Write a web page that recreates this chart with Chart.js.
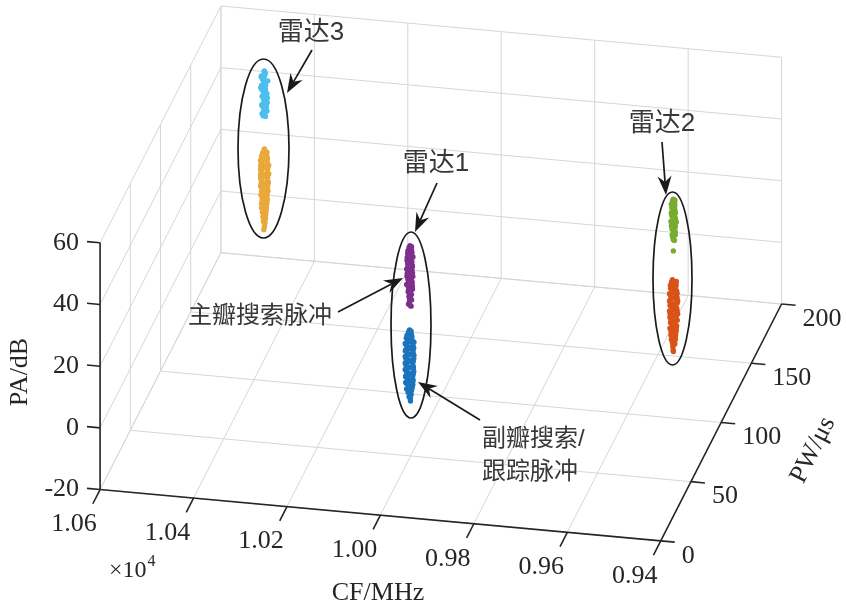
<!DOCTYPE html>
<html>
<head>
<meta charset="utf-8">
<script src="https://cdn.jsdelivr.net/npm/chart.js@4.4.1/dist/chart.umd.min.js"></script>
<style>
  html, body { margin: 0; padding: 0; background: #fff; }
  #wrap { width: 846px; height: 609px; }
</style>
</head>
<body>
<div id="wrap"><canvas id="pdwChart"></canvas></div>
<script>
// axis ticks
const cfTicks = [10600, 10400, 10200, 10000, 9800, 9600, 9400];
const cfTickLabels = ['1.06', '1.04', '1.02', '1.00', '0.98', '0.96', '0.94'];
const pwTicks = [0, 50, 100, 150, 200];
const paTicks = [-20, 0, 20, 40, 60];

// pulses as [CF MHz, PW us, PA dB]
const radar1Main = [
  [10000,49,48.6],[10002,49,48.0],[9998,50,47.9],[10003,48,47.3],[9997,49,47.2],[10004,50,46.7],
  [9996,49,46.5],[10005,49,46.0],[9995,48,45.9],[10004,50,45.4],[9996,49,45.2],[10006,49,44.7],
  [9995,50,44.6],[10005,48,44.1],[9997,49,43.9],[10006,50,43.4],[9996,49,43.3],[10004,49,42.8],
  [9994,48,42.6],[10006,50,42.1],[9995,49,42.0],[10005,48,41.5],[9997,50,41.3],[10007,49,40.8],
  [9996,49,40.7],[10004,50,40.2],[9995,48,40.0],[10006,49,39.5],[9996,50,39.4],[10005,48,38.9],
  [9994,49,38.7],[10006,50,38.2],[9997,49,38.1],[10004,49,37.6],[9995,48,37.4],[10005,50,36.9],
  [9996,49,36.8],[10006,48,36.3],[9997,50,36.1],[10004,49,35.6],[9995,49,35.5],[10005,50,34.9],
  [9997,48,34.8],[10003,49,34.3],[9996,50,34.1],[10004,49,33.6],[9998,48,33.5],[10003,50,32.9],
  [9997,49,32.8],[10002,49,32.2],[9998,48,32.1],[10003,50,31.5],[9999,49,31.4],[10001,49,30.8],
  [9998,50,30.6],[10002,48,30.0],[10000,49,29.3],[9999,50,28.6]
];
const radar1Side = [
  [10001,49,21.2],[10003,49,20.6],[9999,50,20.5],[10005,48,19.9],[9997,49,19.8],[10006,50,19.2],
  [9996,49,19.1],[10008,49,18.5],[9995,48,18.4],[10007,50,17.8],[9994,49,17.7],[10001,49,17.5],
  [10009,48,17.1],[9993,50,17.0],[10008,49,16.4],[9994,49,16.3],[10001,48,16.1],[10009,50,15.7],
  [9992,49,15.6],[10008,48,15.0],[9993,49,14.9],[10000,50,14.7],[10010,49,14.3],[9992,48,14.2],
  [10008,50,13.6],[9994,49,13.5],[10001,49,13.3],[10009,48,12.9],[9993,50,12.8],[10008,49,12.2],
  [9992,49,12.1],[10000,48,11.9],[10010,50,11.5],[9993,49,11.4],[10009,48,10.8],[9994,49,10.7],
  [10002,50,10.5],[10008,49,10.1],[9992,48,10.0],[10010,50,9.4],[9993,49,9.3],[10001,49,9.1],
  [10009,48,8.7],[9994,50,8.6],[10008,49,8.0],[9992,49,7.9],[10000,48,7.7],[10009,50,7.3],
  [9993,49,7.2],[10008,48,6.6],[9994,49,6.5],[10001,50,6.3],[10009,49,5.9],[9993,48,5.8],
  [10007,50,5.2],[9994,49,5.1],[10000,49,4.9],[10008,48,4.5],[9995,50,4.4],[10007,49,3.8],
  [9994,49,3.7],[10001,48,3.5],[10006,50,3.1],[9995,49,3.0],[10006,48,2.4],[9996,49,2.3],
  [10005,50,1.7],[9997,49,1.6],[10004,49,1.0],[9997,48,0.9],[10003,50,0.3],[9998,49,0.2],
  [10002,49,-0.4],[9998,48,-0.5],[10001,50,-1.2],[9999,49,-1.8]
];
const radar2Main = [
  [9501,99,51.4],[9503,99,50.8],[9499,100,50.7],[9504,98,50.1],[9498,99,50.0],[9505,100,49.4],
  [9498,99,49.3],[9504,99,48.7],[9497,98,48.6],[9505,100,48.0],[9498,99,47.9],[9504,98,47.3],
  [9497,99,47.2],[9505,99,46.6],[9498,100,46.5],[9504,99,45.9],[9496,98,45.8],[9504,100,45.2],
  [9497,99,45.1],[9505,98,44.5],[9498,99,44.4],[9503,99,43.8],[9496,100,43.7],[9504,98,43.1],
  [9497,99,43.0],[9503,100,42.4],[9497,99,42.3],[9504,99,41.7],[9498,98,41.6],[9503,100,41.0],
  [9497,99,40.9],[9502,98,40.3],[9498,99,40.2],[9503,99,39.6],[9498,100,39.5],[9502,99,38.9],
  [9499,98,38.8],[9501,99,38.2],[9500,100,37.6],[9501,99,34.6]
];
const radar2Side = [
  [9503,99,25.2],[9498,98,25.0],[9505,99,24.5],[9496,100,24.4],[9506,98,23.8],[9495,99,23.7],
  [9505,100,23.1],[9496,99,23.0],[9507,99,22.4],[9494,98,22.3],[9501,99,22.1],[9506,100,21.7],
  [9494,99,21.6],[9508,98,21.0],[9493,99,20.9],[9500,100,20.7],[9507,99,20.3],[9494,98,20.2],
  [9508,100,19.6],[9493,99,19.5],[9501,99,19.3],[9507,98,18.9],[9494,99,18.8],[9509,99,18.2],
  [9493,100,18.1],[9500,98,17.9],[9507,99,17.5],[9494,100,17.4],[9508,99,16.8],[9493,98,16.7],
  [9501,99,16.5],[9507,100,16.1],[9494,99,16.0],[9508,98,15.4],[9493,99,15.3],[9500,100,15.1],
  [9507,99,14.7],[9494,98,14.6],[9508,99,14.0],[9493,100,13.9],[9501,99,13.7],[9507,98,13.3],
  [9495,99,13.2],[9508,100,12.6],[9494,99,12.5],[9500,98,12.3],[9506,99,11.9],[9494,100,11.8],
  [9507,99,11.2],[9495,98,11.1],[9501,99,10.9],[9506,100,10.5],[9494,99,10.4],[9507,98,9.8],
  [9495,99,9.7],[9500,100,9.5],[9506,99,9.1],[9495,98,9.0],[9506,99,8.4],[9496,100,8.3],
  [9501,99,8.1],[9505,98,7.7],[9496,99,7.6],[9505,100,7.0],[9497,99,6.9],[9504,98,6.3],
  [9497,99,6.2],[9504,99,5.6],[9498,100,5.5],[9503,99,4.9],[9498,98,4.8],[9502,99,4.2],
  [9499,100,4.1],[9502,99,3.4],[9500,98,2.7],[9501,99,2.0]
];
const radar3Main = [
  [10450,156,57.9],[10452,157,57.3],[10448,156,57.2],[10455,155,56.6],[10450,156,56.5],[10457,156,55.9],
  [10451,157,55.8],[10454,156,55.2],[10448,155,55.1],[10450,156,54.5],[10444,157,54.4],[10452,156,53.8],
  [10446,155,53.7],[10456,156,53.1],[10450,157,53.0],[10458,156,52.4],[10452,155,52.3],[10455,156,51.7],
  [10449,157,51.6],[10450,156,51.0],[10444,155,50.9],[10452,156,50.3],[10446,157,50.2],[10455,156,49.6],
  [10449,155,49.5],[10452,156,48.9],[10445,157,48.8],[10448,156,48.2],[10443,155,48.1],[10452,156,47.5],
  [10446,157,47.4],[10456,156,46.8],[10450,155,46.7],[10453,156,46.1],[10447,157,46.0],[10449,156,45.4],
  [10444,155,45.3],[10452,156,44.7],[10446,157,44.6],[10455,156,44.0],[10450,155,43.9],[10453,156,43.3],
  [10449,157,42.8]
];
const radar3Side = [
  [10450,156,32.6],[10452,157,32.0],[10448,155,31.9],[10454,156,31.3],[10446,157,31.2],[10455,155,30.6],
  [10445,156,30.5],[10456,157,29.9],[10444,156,29.8],[10457,155,29.2],[10444,156,29.1],[10450,157,28.9],
  [10458,156,28.5],[10443,155,28.4],[10457,157,27.8],[10443,156,27.7],[10451,155,27.5],[10458,156,27.1],
  [10442,157,27.0],[10457,155,26.4],[10443,156,26.3],[10450,157,26.1],[10458,156,25.7],[10442,155,25.6],
  [10457,157,25.0],[10443,156,24.9],[10449,155,24.7],[10458,156,24.3],[10442,157,24.2],[10457,155,23.6],
  [10443,156,23.5],[10451,157,23.3],[10457,156,22.9],[10443,155,22.8],[10458,157,22.2],[10442,156,22.1],
  [10450,155,21.9],[10457,156,21.5],[10443,157,21.4],[10457,155,20.8],[10443,156,20.7],[10449,157,20.5],
  [10456,156,20.1],[10444,155,20.0],[10457,157,19.4],[10443,156,19.3],[10450,155,19.1],[10456,156,18.7],
  [10444,157,18.6],[10456,155,18.0],[10444,156,17.9],[10451,157,17.7],[10455,156,17.3],[10445,155,17.2],
  [10456,157,16.6],[10444,156,16.5],[10450,155,16.3],[10455,156,15.9],[10445,157,15.8],[10455,155,15.2],
  [10445,156,15.1],[10454,157,14.5],[10446,156,14.4],[10455,155,13.8],[10446,156,13.7],[10454,157,13.1],
  [10446,156,13.0],[10453,155,12.4],[10447,156,12.3],[10453,157,11.7],[10447,156,11.6],[10452,155,11.0],
  [10448,156,10.9],[10452,157,10.3],[10448,156,10.2],[10451,155,9.6],[10449,156,9.5],[10451,156,8.8],
  [10450,157,8.1],[10450,156,7.4],[10450,155,6.8]
];

const clusters = [
  { data: radar1Main, color: '#7E2F8E' },
  { data: radar1Side, color: '#1C74BE' },
  { data: radar2Main, color: '#77AC30' },
  { data: radar2Side, color: '#D95319' },
  { data: radar3Main, color: '#4DBEEE' },
  { data: radar3Side, color: '#E9A83A' }
];

// annotations (pixel space)
const ellipses = [
  { cx: 263.5, cy: 148.5, rx: 25.5, ry: 89.5 },
  { cx: 411, cy: 325, rx: 20, ry: 93 },
  { cx: 672.5, cy: 278.5, rx: 19.5, ry: 86.5 }
];
const arrows = [
  { from: [312, 50], to: [287, 93] },
  { from: [437, 183], to: [415, 232] },
  { from: [662, 142], to: [666, 195] },
  { from: [338, 312], to: [403, 278] },
  { from: [480, 420], to: [418, 382] }
];
const notes = [
  { text: '雷达3', x: 311, y: 33, align: 'center' },
  { text: '雷达1', x: 436, y: 164, align: 'center' },
  { text: '雷达2', x: 662, y: 124, align: 'center' },
  { text: '主瓣搜索脉冲', x: 188, y: 316, align: 'left' },
  { text: '副瓣搜索/', x: 482, y: 439, align: 'left' },
  { text: '跟踪脉冲', x: 482, y: 472, align: 'left' }
];

// view: orthographic projection of the CF/PW/PA box
const CF_HI = 10600, CF_LO = 9400, PW_LO = 0, PW_HI = 200, PA_LO = -20, PA_HI = 60;
function project(cf, pw, pa) {
  const u = (CF_HI - cf) / (CF_HI - CF_LO);
  const v = (pw - PW_LO) / (PW_HI - PW_LO);
  const w = (pa - PA_LO) / (PA_HI - PA_LO);
  return { x: 566 * u + 122 * v, y: 52 * u - 240 * v - 250 * w };
}
const seg = (a, b) => [project(...a), project(...b)];

const gridLines = [];
cfTicks.forEach(cf => {
  gridLines.push(seg([cf, PW_LO, PA_LO], [cf, PW_HI, PA_LO]));
  gridLines.push(seg([cf, PW_HI, PA_LO], [cf, PW_HI, PA_HI]));
});
pwTicks.forEach(pw => {
  gridLines.push(seg([CF_HI, pw, PA_LO], [CF_LO, pw, PA_LO]));
  gridLines.push(seg([CF_HI, pw, PA_LO], [CF_HI, pw, PA_HI]));
});
paTicks.forEach(pa => {
  gridLines.push(seg([CF_HI, PW_HI, pa], [CF_LO, PW_HI, pa]));
  gridLines.push(seg([CF_HI, PW_LO, pa], [CF_HI, PW_HI, pa]));
});

const axisLines = [
  seg([CF_HI, PW_LO, PA_LO], [CF_LO, PW_LO, PA_LO]),
  seg([CF_LO, PW_LO, PA_LO], [CF_LO, PW_HI, PA_LO]),
  seg([CF_HI, PW_LO, PA_LO], [CF_HI, PW_LO, PA_HI])
];
cfTicks.forEach(cf => axisLines.push(seg([cf, PW_LO, PA_LO], [cf, -12, PA_LO])));
pwTicks.forEach(pw => axisLines.push(seg([CF_LO, pw, PA_LO], [CF_LO - 30, pw, PA_LO])));
paTicks.forEach(pa => axisLines.push(seg([CF_HI, PW_LO, pa], [CF_HI + 28, PW_LO, pa])));

const datasets = [];
clusters.forEach(c => datasets.push({
  data: c.data.map(p => project(...p)),
  backgroundColor: c.color,
  pointRadius: 2.7,
  pointBorderWidth: 0,
  order: 0
}));
axisLines.forEach(l => datasets.push({
  data: l, showLine: true, borderColor: '#262626', borderWidth: 1.6, pointRadius: 0, order: 1
}));
gridLines.forEach(l => datasets.push({
  data: l, showLine: true, borderColor: '#d6d6d6', borderWidth: 1, pointRadius: 0, order: 2
}));

const SERIF = '"Liberation Serif", "Times New Roman", serif';
const CJK = '"Liberation Sans", "Noto Sans CJK SC", sans-serif';

function drawArrow(ctx, from, to) {
  const ang = Math.atan2(to[1] - from[1], to[0] - from[0]);
  const len = 19, half = 7;
  const c = Math.cos(ang), s = Math.sin(ang);
  const bx = to[0] - len * c, by = to[1] - len * s;
  const nx = to[0] - 0.68 * len * c, ny = to[1] - 0.68 * len * s;
  ctx.beginPath();
  ctx.moveTo(from[0], from[1]);
  ctx.lineTo(nx, ny);
  ctx.stroke();
  ctx.beginPath();
  ctx.moveTo(to[0], to[1]);
  ctx.lineTo(bx + half * s, by - half * c);
  ctx.lineTo(nx, ny);
  ctx.lineTo(bx - half * s, by + half * c);
  ctx.closePath();
  ctx.fill();
}

const overlay = {
  id: 'overlay',
  afterDatasetsDraw(chart) {
    const { ctx, scales: { x, y } } = chart;
    const px = (cf, pw, pa) => {
      const p = project(cf, pw, pa);
      return [x.getPixelForValue(p.x), y.getPixelForValue(p.y)];
    };
    ctx.save();
    ctx.fillStyle = '#262626';
    ctx.font = '26px ' + SERIF;
    ctx.textBaseline = 'middle';

    ctx.textAlign = 'right';
    paTicks.forEach(pa => {
      const [tx, ty] = px(CF_HI, PW_LO, pa);
      ctx.fillText(String(pa), tx - 21, ty);
    });
    ctx.textAlign = 'center';
    cfTicks.forEach((cf, i) => {
      const [tx, ty] = px(cf, PW_LO, PA_LO);
      ctx.fillText(cfTickLabels[i], tx - 26, ty + 35);
    });
    ctx.textAlign = 'left';
    pwTicks.forEach(pw => {
      const [tx, ty] = px(CF_LO, pw, PA_LO);
      ctx.fillText(String(pw), tx + 21, ty + 15);
    });

    // exponent
    ctx.font = '24px ' + SERIF;
    const base = '\u00d710';
    ctx.fillText(base, 109, 571);
    const bw = ctx.measureText(base).width;
    ctx.font = '16px ' + SERIF;
    ctx.fillText('4', 109 + bw + 1, 562);

    // axis titles
    ctx.font = '26px ' + SERIF;
    ctx.textAlign = 'center';
    ctx.fillText('CF/MHz', 378, 593);
    ctx.save();
    ctx.translate(20, 372);
    ctx.rotate(-Math.PI / 2);
    ctx.fillText('PA/dB', 0, 0);
    ctx.restore();
    ctx.save();
    ctx.translate(813, 450);
    ctx.rotate(Math.atan2(-240, 122));
    ctx.fillText('PW/\u03bcs', 0, 0);
    ctx.restore();

    // annotations
    ctx.strokeStyle = '#1a1a1a';
    ctx.fillStyle = '#1a1a1a';
    ctx.lineWidth = 1.7;
    ellipses.forEach(e => {
      ctx.beginPath();
      ctx.ellipse(e.cx, e.cy, e.rx, e.ry, 0, 0, Math.PI * 2);
      ctx.stroke();
    });
    ctx.lineWidth = 1.7;
    arrows.forEach(a => drawArrow(ctx, a.from, a.to));

    ctx.fillStyle = '#383838';
    notes.forEach(n => {
      ctx.font = (n.text.length > 3 ? '24px ' : '26px ') + CJK;
      ctx.textAlign = n.align;
      ctx.fillText(n.text, n.x, n.y);
    });
    ctx.restore();
  }
};

new Chart(document.getElementById('pdwChart'), {
  type: 'scatter',
  data: { datasets },
  options: {
    responsive: true,
    maintainAspectRatio: false,
    animation: false,
    events: [],
    layout: { padding: 0 },
    scales: {
      x: { type: 'linear', display: false, min: -97, max: 749 },
      y: { type: 'linear', display: false, reverse: true, min: -492, max: 117 }
    },
    plugins: { legend: { display: false }, tooltip: { enabled: false } }
  },
  plugins: [overlay]
});
</script>
</body>
</html>
